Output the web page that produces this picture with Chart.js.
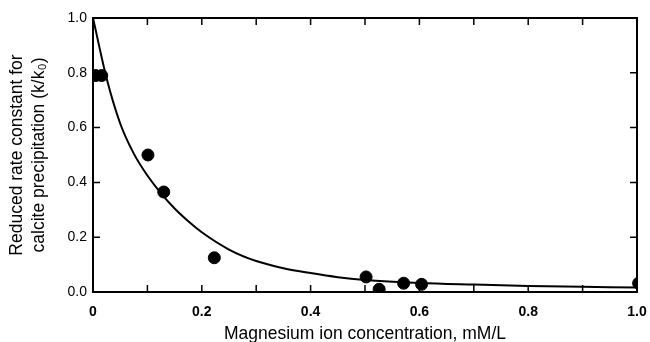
<!DOCTYPE html>
<html>
<head>
<meta charset="utf-8">
<script src="https://cdn.jsdelivr.net/npm/chart.js@4"></script>
<style>
  html, body { margin: 0; padding: 0; background: #fff; }
  #wrap { width: 650px; height: 342px; }
</style>
</head>
<body>
<div id="wrap"><canvas id="rateChart" width="650" height="342"></canvas></div>
<script>
// measured points (Mg concentration, k/k0)
const mgConc = [0.005, 0.016, 0.101, 0.130, 0.223, 0.502, 0.526, 0.571, 0.604, 1.003];
const rateRatio = [0.79, 0.79, 0.50, 0.365, 0.125, 0.055, 0.01, 0.032, 0.028, 0.032];

// fitted curve
const curveX = [0, 0.025, 0.05, 0.075, 0.1, 0.125, 0.15, 0.18, 0.2, 0.25, 0.3, 0.35, 0.4, 0.45, 0.5, 0.6, 0.7, 0.8, 0.9, 1.0];
const curveY = [1.0, 0.78, 0.615, 0.505, 0.425, 0.36, 0.305, 0.25, 0.218, 0.155, 0.113, 0.087, 0.069, 0.054, 0.044, 0.033, 0.027, 0.022, 0.019, 0.016];

const xTickLabels = ['0', '0.2', '0.4', '0.6', '0.8', '1.0'];
const yTickLabels = ['0.0', '0.2', '0.4', '0.6', '0.8', '1.0'];

const frame = {
    id: 'frame',
    afterDatasetsDraw(chart) {
        const { ctx, chartArea: a, scales: { x, y } } = chart;
        ctx.save();
        ctx.strokeStyle = '#000';
        ctx.lineWidth = 2;
        ctx.strokeRect(a.left, a.top, a.right - a.left, a.bottom - a.top);
        ctx.lineWidth = 1.5;
        ctx.beginPath();
        for (let i = 1; i < 10; i++) {
            const px = x.getPixelForValue(i / 10);
            ctx.moveTo(px, a.bottom); ctx.lineTo(px, a.bottom - 7);
            ctx.moveTo(px, a.top); ctx.lineTo(px, a.top + 7);
        }
        for (let i = 1; i < 5; i++) {
            const py = y.getPixelForValue(i / 5);
            ctx.moveTo(a.left, py); ctx.lineTo(a.left + 7, py);
            ctx.moveTo(a.right, py); ctx.lineTo(a.right - 7, py);
        }
        ctx.stroke();
        ctx.restore();
    }
};

const ctx = document.getElementById('rateChart').getContext('2d');
new Chart(ctx, {
    type: 'scatter',
    data: {
        datasets: [{
            label: 'fit',
            data: curveX.map((v, i) => ({ x: v, y: curveY[i] })),
            showLine: true,
            borderColor: '#000',
            borderWidth: 2,
            pointRadius: 0,
            cubicInterpolationMode: 'monotone'
        }, {
            label: 'measured',
            data: mgConc.map((v, i) => ({ x: v, y: rateRatio[i] })),
            backgroundColor: '#000',
            borderColor: '#000',
            pointRadius: 6
        }]
    },
    options: {
        responsive: false,
        animation: false,
        layout: { padding: { top: 18, right: 13, left: 0, bottom: 0 } },
        plugins: { legend: { display: false }, tooltip: { enabled: false } },
        scales: {
            x: {
                type: 'linear', min: 0, max: 1.0,
                afterFit: s => { s.height = 50; s.paddingLeft = 0; s.paddingRight = 0; },
                grid: { display: false, drawTicks: false },
                border: { display: false },
                ticks: {
                    stepSize: 0.2, padding: 12, color: '#000',
                    maxRotation: 0,
                    font: { family: 'Liberation Sans', size: 14, weight: 'bold' },
                    callback: (v, i) => xTickLabels[i]
                },
                title: {
                    display: true, text: 'Magnesium ion concentration, mM/L',
                    color: '#000', padding: { top: 0, bottom: -3 },
                    font: { family: 'Liberation Sans', size: 17.5 }
                }
            },
            y: {
                min: 0, max: 1.0,
                afterFit: s => { s.width = 93; },
                grid: { display: false, drawTicks: false },
                border: { display: false },
                ticks: {
                    stepSize: 0.2, padding: 6, color: '#000',
                    font: { family: 'Liberation Sans', size: 14 },
                    callback: (v, i) => yTickLabels[i]
                },
                title: {
                    display: true, text: ['Reduced rate constant for', 'calcite precipitation (k/k\u2080)'],
                    color: '#000', padding: { top: 6, bottom: 0 },
                    font: { family: 'Liberation Sans', size: 17.5, lineHeight: 1.25 }
                }
            }
        }
    },
    plugins: [frame]
});
</script>
</body>
</html>
